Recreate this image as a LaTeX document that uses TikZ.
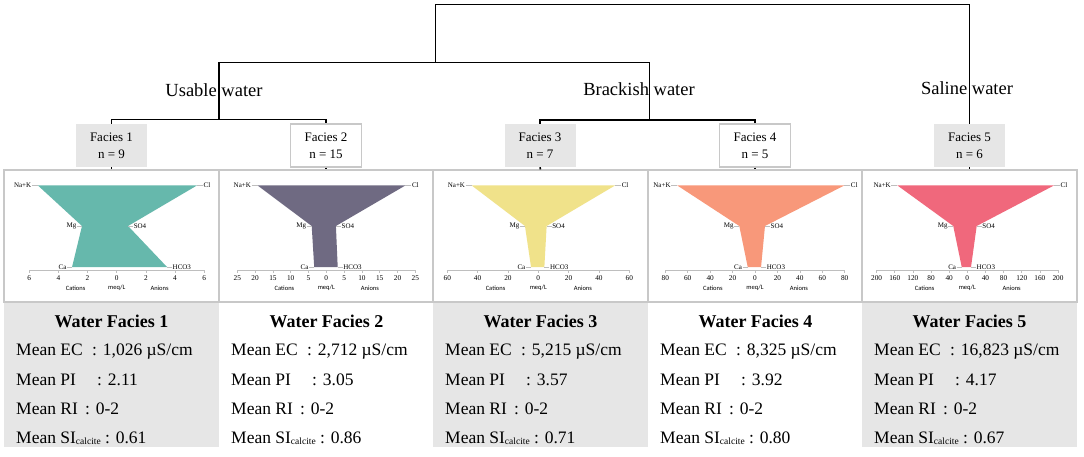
\documentclass[tikz,border=0pt]{standalone}
\usepackage{fontspec}
\setmainfont{Liberation Serif}
\newfontfamily\carl{Carlito}
\usetikzlibrary{calc}
\definecolor{boxgray}{RGB}{230,230,230}
\definecolor{bordergray}{RGB}{200,200,200}
\definecolor{axgray}{RGB}{190,190,190}
\definecolor{cteal}{RGB}{102,184,172}
\definecolor{cpurple}{RGB}{111,106,130}
\definecolor{cyellow}{RGB}{240,226,138}
\definecolor{csalmon}{RGB}{248,152,122}
\definecolor{cred}{RGB}{240,104,124}

\newcommand\stiffpanel[8]{% #1 idx, #2 cx, #3 half width, #4 max, #5 ticks, #6 colour, #7 cations, #8 anions
  \pgfmathsetmacro\unitx{#3/#4}%
  \pgfmathsetmacro\vnak{{#7}[0]}\pgfmathsetmacro\vmg{{#7}[1]}\pgfmathsetmacro\vca{{#7}[2]}%
  \pgfmathsetmacro\vcl{{#8}[0]}\pgfmathsetmacro\vso{{#8}[1]}\pgfmathsetmacro\vhco{{#8}[2]}%
  \begin{scope}[shift={(#2,0)}, x=\unitx pt]
    \draw[axisline] (-#4,270) -- (#4,270);
    \foreach \v in {#5} {
      \draw[axisline] (\v,270) -- (\v,273);
      \pgfmathtruncatemacro\lab{abs(\v)}
      \node[ticklab] at (\v,278.5) {\lab};
    }
    \node[caplab] (#1cat) at (-0.47*#4,288) {Cations};
    \node[caplab] (#1meq) at (0,288) {meq/L};
    \node[caplab] (#1ani) at (0.49*#4,288) {Anions};
    \coordinate (#1nak) at (\vnak,185.5);
    \coordinate (#1mg) at (\vmg,226);
    \coordinate (#1ca) at (\vca,267);
    \coordinate (#1cl) at (\vcl,185.5);
    \coordinate (#1so) at (\vso,226);
    \coordinate (#1hco) at (\vhco,267);
    \fill[#6] (#1nak) -- (#1mg) -- (#1ca) -- (#1hco) -- (#1so) -- (#1cl) -- cycle;
    \node[ion,anchor=east] (#1Lnak) at ([xshift=-6pt]#1nak) {Na+K};
    \node[ion,anchor=east] (#1Lmg) at ([xshift=-5pt]#1mg) {Mg};
    \node[ion,anchor=east] (#1Lca) at ([xshift=-5pt]#1ca) {Ca};
    \node[ion,anchor=west] (#1Lcl) at ([xshift=6pt]#1cl) {Cl};
    \node[ion,anchor=west] (#1Lso) at ([xshift=5pt]#1so) {SO4};
    \node[ion,anchor=west] (#1Lhco) at ([xshift=5pt]#1hco) {HCO3};
    \draw[leader] (#1Lnak.east) -- (#1nak);
    \draw[leader] (#1Lmg.east) -- (#1mg);
    \draw[leader] (#1Lca.east) -- (#1ca);
    \draw[leader] (#1Lcl.west) -- (#1cl);
    \draw[leader] (#1Lso.west) -- (#1so);
    \draw[leader] (#1Lhco.west) -- (#1hco);
  \end{scope}}

\newcommand\infobox[7]{% #1 idx, #2 left x, #3 style, #4 number, #5 EC, #6 PI, #7 SI
  \node[#3, minimum width=215pt, minimum height=144pt, anchor=north west, inner sep=0pt] (t#1) at (#2,303) {};
  \node[infotitle] (t#1h) at (#2+107.5,327) {Water Facies #4};
  \node[inforow] (t#1ec) at (#2+12,355) {\makebox[76pt][l]{Mean EC}: #5 µS/cm};
  \node[inforow] (t#1pi) at (#2+12,385) {\makebox[81pt][l]{Mean PI}: #6};
  \node[inforow] (t#1ri) at (#2+12,414) {\makebox[69pt][l]{Mean RI}: 0-2};
  \node[inforow] (t#1si) at (#2+12,443) {Mean SI{\fontsize{9.5}{10}\selectfont\raisebox{-1.5pt}{calcite}} : #7};}

\begin{document}
\begin{tikzpicture}[x=1pt,y=-1pt,
  dend/.style={draw=black, line width=1.6pt},
  facG/.style={fill=boxgray, minimum width=71pt, minimum height=43pt, inner sep=0pt, align=center, font=\fontsize{13}{17}\selectfont},
  facW/.style={facG, fill=white, draw=bordergray, line width=1.2pt},
  panelbox/.style={draw=bordergray, line width=1.2pt, minimum height=132pt, inner sep=0pt},
  axisline/.style={draw=axgray, line width=0.6pt},
  leader/.style={draw=axgray, line width=0.5pt},
  ion/.style={font=\fontsize{7}{8}\selectfont, inner sep=0.5pt},
  ticklab/.style={font=\fontsize{7.3}{8}\selectfont, inner sep=0pt},
  caplab/.style={font=\carl\fontsize{6.5}{7}\selectfont, inner sep=0pt},
  grayinfo/.style={fill=boxgray},
  whiteinfo/.style={fill=white},
  infotitle/.style={anchor=base, inner sep=0pt, font=\bfseries\fontsize{18}{21}\selectfont},
  inforow/.style={anchor=base west, inner sep=0pt, font=\fontsize{17.5}{20}\selectfont},
  grouplab/.style={inner sep=0pt, font=\fontsize{18.5}{22}\selectfont}]
\useasboundingbox (0,0) rectangle (1084,457);
\fill[white] (0,0) rectangle (1084,457);

% group labels
\node[grouplab] (usable) at (214,90) {Usable water};
\node[grouplab] (brackish) at (639,89) {Brackish water};
\node[grouplab] (saline) at (967,88) {Saline water};

% facies boxes
\node[facG] (f1) at (111.5,145.5) {Facies 1\\n = 9};
\node[facW] (f2) at (326,145.5) {Facies 2\\n = 15};
\node[facG] (f3) at (540,145.5) {Facies 3\\n = 7};
\node[facW] (f4) at (755,145.5) {Facies 4\\n = 5};
\node[facG] (f5) at (969.5,145.5) {Facies 5\\n = 6};

% dendrogram
\coordinate (jT) at (435.5,4.5);
\coordinate (jTop) at (435.5,62.5);
\coordinate (jU) at (219,62.5);
\coordinate (jB) at (649.5,62.5);
\coordinate (j12) at (219,119.5);
\coordinate (j34) at (649.5,120);
\draw[dend] (f1.north) |- (j12) -| (f2.north);
\draw[dend] (f3.north) |- (j34) -| (f4.north);
\draw[dend] (j12) -- (jU) -- (jB) -- (j34);
\draw[dend] (jTop) -- (jT) -| (f5.north);

% stiff diagram panels
\node[panelbox, minimum width=215pt] (p1) at (111.5,236) {};
\node[panelbox, minimum width=214pt] (p2) at (326,236) {};
\node[panelbox, minimum width=215pt] (p3) at (540.5,236) {};
\node[panelbox, minimum width=214pt] (p4) at (755,236) {};
\node[panelbox, minimum width=215pt] (p5) at (969.5,236) {};
\foreach \i in {1,...,5} {\draw[dend] (f\i.south) -- (p\i.north);}

\stiffpanel{a}{116.7}{87.5}{6}{-6,-4,...,6}{cteal}{-5.4,-2.38,-3.06}{5.5,0.78,3.45}
\stiffpanel{b}{326.3}{89}{25}{-25,-20,...,25}{cpurple}{-19.3,-4.1,-3.4}{22.2,2.7,3.2}
\stiffpanel{c}{538.3}{91}{60}{-60,-40,...,60}{cyellow}{-43.9,-8.8,-4.8}{50.6,5.5,4.0}
\stiffpanel{d}{755}{89.7}{80}{-80,-60,...,80}{csalmon}{-69.3,-14,-6.5}{79.6,8.9,5.4}
\stiffpanel{e}{967.3}{90.7}{200}{-200,-160,...,200}{cred}{-154,-31,-12.3}{191,20.7,8.2}

% info boxes
\infobox{1}{4}{grayinfo}{1}{1,026}{2.11}{0.61}
\infobox{2}{219}{whiteinfo}{2}{2,712}{3.05}{0.86}
\infobox{3}{433}{grayinfo}{3}{5,215}{3.57}{0.71}
\infobox{4}{648}{whiteinfo}{4}{8,325}{3.92}{0.80}
\infobox{5}{862}{grayinfo}{5}{16,823}{4.17}{0.67}
\end{tikzpicture}
\end{document}
